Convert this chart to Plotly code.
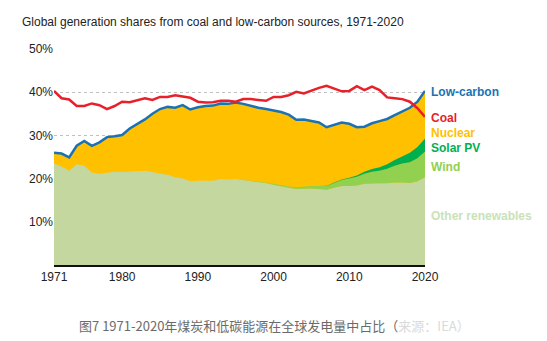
import plotly.graph_objects as go

years = list(range(1971, 2021))

coal = [40.3, 38.6, 38.3, 36.8, 36.8, 37.4, 37.0, 36.1, 36.8, 37.8,
        37.7, 38.2, 38.6, 38.2, 38.9, 38.9, 39.3, 39.0, 38.7, 37.8,
        37.6, 37.7, 38.0, 38.0, 37.8, 38.4, 38.4, 38.2, 38.0, 38.9,
        38.9, 39.3, 40.1, 39.7, 40.4, 41.0, 41.5, 40.9, 40.2, 40.3,
        41.4, 40.5, 41.3, 40.5, 38.8, 38.6, 38.4, 37.8, 36.3, 34.3]

low_carbon = [26.0, 25.8, 24.9, 27.6, 28.7, 27.6, 28.4, 29.6, 29.8, 30.1,
              31.6, 32.6, 33.7, 35.0, 36.1, 36.6, 36.4, 37.0, 36.0, 36.5,
              36.8, 36.9, 37.4, 37.3, 37.6, 37.3, 36.8, 36.4, 36.1, 35.7,
              35.4, 34.8, 33.6, 33.7, 33.4, 33.0, 31.9, 32.4, 33.0, 32.7,
              31.9, 32.0, 32.8, 33.3, 33.8, 34.7, 35.6, 36.4, 37.8, 40.3]

other_renewables = [23.5, 22.8, 21.8, 23.3, 23.0, 21.4, 21.1, 21.4, 21.6, 21.5,
                    21.6, 21.8, 21.8, 21.5, 21.1, 20.9, 20.3, 20.0, 19.4, 19.5,
                    19.5, 19.5, 19.9, 19.8, 19.9, 19.7, 19.5, 19.3, 19.0, 18.6,
                    18.2, 17.9, 17.6, 17.7, 17.7, 17.6, 17.4, 17.9, 18.3, 18.3,
                    18.4, 18.8, 18.9, 18.9, 18.9, 19.1, 19.1, 19.0, 19.4, 20.3]

wind = [0.0, 0.0, 0.0, 0.0, 0.0, 0.0, 0.0, 0.0, 0.0, 0.0,
        0.0, 0.0, 0.0, 0.0, 0.0, 0.0, 0.0, 0.0, 0.0, 0.0,
        0.0, 0.0, 0.0, 0.0, 0.0, 0.0, 0.1, 0.1, 0.1, 0.2,
        0.25, 0.3, 0.4, 0.5, 0.6, 0.7, 0.9, 1.1, 1.4, 1.7,
        2.0, 2.3, 2.7, 2.9, 3.4, 3.9, 4.4, 4.8, 5.3, 6.0]

solar_pv = [0.0, 0.0, 0.0, 0.0, 0.0, 0.0, 0.0, 0.0, 0.0, 0.0,
            0.0, 0.0, 0.0, 0.0, 0.0, 0.0, 0.0, 0.0, 0.0, 0.0,
            0.0, 0.0, 0.0, 0.0, 0.0, 0.0, 0.0, 0.0, 0.0, 0.0,
            0.0, 0.0, 0.0, 0.0, 0.0, 0.0, 0.05, 0.1, 0.1, 0.2,
            0.3, 0.5, 0.6, 0.8, 1.0, 1.3, 1.7, 2.2, 2.6, 3.0]

y_ticks = [10, 20, 30, 40, 50]
y_tick_text = ["10%", "20%", "30%", "40%", "50%"]
x_ticks = [1971, 1980, 1990, 2000, 2010, 2020]

labels = ["Low-carbon", "Coal", "Nuclear", "Solar PV", "Wind", "Other renewables"]
label_y = [40.0, 34.0, 30.6, 27.1, 22.7, 11.3]

C_BLUE = "#1a72b5"
C_RED = "#e8202a"
C_YELLOW = "#ffc000"
C_SOLAR = "#00b050"
C_WIND = "#92d050"
C_OTHER = "#c4d79e"
label_colors = [C_BLUE, C_RED, C_YELLOW, C_SOLAR, C_WIND, "#c9e2b8"]

fig = go.Figure()

# Nuclear area = region under the low-carbon total (covered below by stacked renewables)
fig.add_trace(go.Scatter(x=years, y=low_carbon, mode="lines", line=dict(width=0),
                         fill="tozeroy", fillcolor=C_YELLOW, hoverinfo="skip", showlegend=False))
fig.add_trace(go.Scatter(x=years, y=other_renewables, mode="lines", line=dict(width=0),
                         stackgroup="re", fillcolor=C_OTHER, showlegend=False))
fig.add_trace(go.Scatter(x=years, y=wind, mode="lines", line=dict(width=0),
                         stackgroup="re", fillcolor=C_WIND, showlegend=False))
fig.add_trace(go.Scatter(x=years, y=solar_pv, mode="lines", line=dict(width=0),
                         stackgroup="re", fillcolor=C_SOLAR, showlegend=False))
fig.add_trace(go.Scatter(x=years, y=low_carbon, mode="lines",
                         line=dict(color=C_BLUE, width=2.5), showlegend=False))
fig.add_trace(go.Scatter(x=years, y=coal, mode="lines",
                         line=dict(color=C_RED, width=2.5), showlegend=False))

for t, yv, c in zip(labels, label_y, label_colors):
    fig.add_annotation(x=1.012, xref="paper", y=yv, yref="y", text="<b>%s</b>" % t,
                       showarrow=False, xanchor="left", yanchor="middle",
                       font=dict(family="Liberation Sans, Arial", size=12, color=c))

fig.add_annotation(
    x=(77 - 54) / 371, xref="paper", y=(265 - 325) / 216, yref="paper",
    xanchor="left", yanchor="middle",
    text="图7 1971-2020年煤炭和低碳能源在全球发电量中占比（<span style='color:#dadada'>来源：IEA）</span>",
    showarrow=False, font=dict(family="Noto Sans CJK SC", size=13, color="#6b6b6b"))

fig.update_layout(
    width=547, height=341,
    margin=dict(l=54, r=122, t=49, b=76),
    paper_bgcolor="white", plot_bgcolor="white",
    font=dict(family="Liberation Sans, Arial", size=12, color="#222222"),
    title=dict(text="Global generation shares from coal and low-carbon sources, 1971-2020",
               x=22 / 547, xanchor="left", y=1 - 22 / 341, yanchor="middle",
               font=dict(size=12, color="#222222")),
    xaxis=dict(range=[1971, 2020], tickvals=x_ticks, showgrid=False, zeroline=False,
               showline=True, linecolor="#111111", linewidth=2, ticks="",
               tickfont=dict(size=12, color="#222222")),
    yaxis=dict(range=[0, 50], tickvals=y_ticks, ticktext=y_tick_text, showgrid=True,
               gridcolor="#c0c0c0", griddash="dot", gridwidth=1, zeroline=False,
               showline=False, ticks="", tickfont=dict(size=12, color="#222222")),
)

fig.write_html("out.html")
